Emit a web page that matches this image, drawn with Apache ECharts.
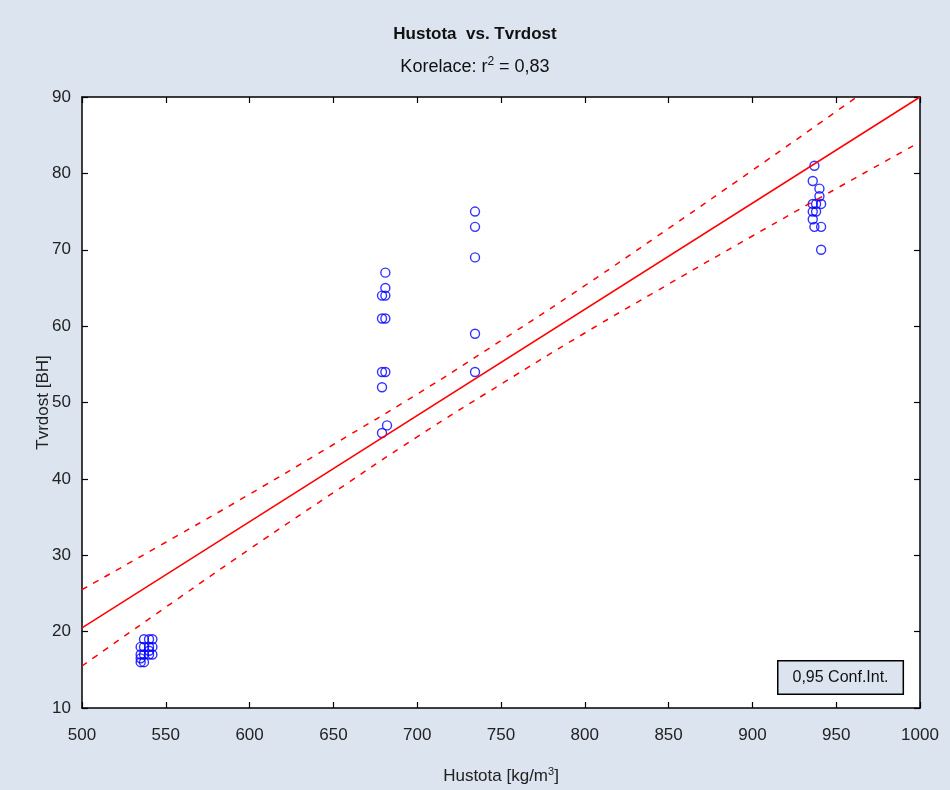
<!DOCTYPE html>
<html>
<head>
<meta charset="utf-8">
<script src="https://cdn.jsdelivr.net/npm/echarts@6/dist/echarts.min.js"></script>
<style>
html,body{margin:0;padding:0;background:#dbe4ef;}
#chart{width:950px;height:790px;}
</style>
</head>
<body>
<div id="chart"></div>
<script>
// Data
const points = [
  [535,16],[535,17],[535,18],[535,16.5],
  [537,17],[537,18],[537,19],[537,16],
  [540,17],[540,18],[540,19],[540,17.5],
  [542,18],[542,19],[542,17],
  [681,67],[681,65],[679,64],[681,64],[679,61],[681,61],
  [679,54],[681,54],[679,52],[682,47],[679,46],
  [734.5,75],[734.5,73],[734.5,69],[734.5,59],[734.5,54],
  [937,81],[936,79],[940,78],[940,77],[936,76],[938,76],[941,76],
  [936,75],[938,75],[936,74],[937,73],[941,73],[941,70]
];
const fitLine = [[500,20.5],[1000,90]];
const ciX     = [500, 550, 600, 650, 700, 750, 800, 850, 900, 950, 1000];
const ciUpper = [25.5, 31.7, 38.0, 44.5, 51.1, 58.1, 65.3, 72.8, 80.4, 88.1, 95.9];
const ciLower = [15.5, 23.2, 30.8, 38.2, 45.5, 52.4, 59.1, 65.5, 71.8, 78.0, 84.1];
const xTicks = [500,550,600,650,700,750,800,850,900,950,1000];
const yTicks = [10,20,30,40,50,60,70,80,90];

const FONT = '"Liberation Sans", Arial, sans-serif';
const chart = echarts.init(document.getElementById('chart'));
const axisCommon = {
  axisLine:{show:true, onZero:false, lineStyle:{color:'#000', width:1.5}},
  axisTick:{show:true, inside:true, length:6, lineStyle:{color:'#000', width:1.2}},
  splitLine:{show:false}
};
chart.setOption({
  backgroundColor:'#dbe4ef',
  animation:false,
  title:{
    left:'center', top:21,
    text:'Hustota  vs. Tvrdost',
    textStyle:{fontFamily:FONT, fontSize:17, fontWeight:'bold', color:'#111'},
    subtext:'{a|Korelace: r}{s|2}{a| = 0,83}',
    itemGap:13,
    subtextStyle:{rich:{
      a:{fontFamily:FONT, fontSize:18, color:'#111'},
      s:{fontFamily:FONT, fontSize:12, color:'#111', verticalAlign:'top', padding:[0,0,10,0]}
    }}
  },
  grid:{left:82, right:30, top:97, bottom:82, backgroundColor:'#fff', show:true, borderWidth:0},
  xAxis:[
    Object.assign({type:'value', min:500, max:1000, interval:50, position:'bottom',
      axisLabel:{fontFamily:FONT, fontSize:17, color:'#222', margin:19, formatter:v=>String(v)},
      name:'{a|Hustota [kg/m}{s|3}{a|]}', nameLocation:'middle', nameGap:58, nameMoveOverlap:false,
      nameTextStyle:{rich:{
        a:{fontFamily:FONT, fontSize:17, color:'#222'},
        s:{fontFamily:FONT, fontSize:11, color:'#222', verticalAlign:'top', padding:[0,0,10,0]}
      }}
    }, axisCommon),
    Object.assign({type:'value', min:500, max:1000, interval:50, position:'top',
      axisLabel:{show:false}}, axisCommon)
  ],
  yAxis:[
    Object.assign({type:'value', min:10, max:90, interval:10, position:'left',
      axisLabel:{fontFamily:FONT, fontSize:17, color:'#222', margin:11},
      name:'Tvrdost [BH]', nameLocation:'middle', nameGap:30, nameRotate:90, nameMoveOverlap:false,
      nameTextStyle:{fontFamily:FONT, fontSize:17, color:'#222'}
    }, axisCommon),
    Object.assign({type:'value', min:10, max:90, interval:10, position:'right',
      axisLabel:{show:false}}, axisCommon)
  ],
  series:[
    {type:'line', data:fitLine, showSymbol:false, symbol:'none', clip:true,
      lineStyle:{color:'#ff0000', width:1.5}},
    {type:'line', data:ciX.map((x,i)=>[x,ciUpper[i]]), smooth:true, symbol:'none', clip:true,
      lineStyle:{color:'#ff0000', width:1.5, type:[6,7]}},
    {type:'line', data:ciX.map((x,i)=>[x,ciLower[i]]), smooth:true, symbol:'none', clip:true,
      lineStyle:{color:'#ff0000', width:1.5, type:[6,7]}},
    {type:'scatter', data:points, symbol:'circle', symbolSize:9,
      itemStyle:{color:'rgba(0,0,0,0)', borderColor:'#0000ff', borderWidth:1.4}}
  ],
  graphic:[{
    type:'text', left:777, top:660,
    style:{text:'0,95 Conf.Int.', fontFamily:FONT, fontSize:16, fill:'#111',
      backgroundColor:'#dbe4ef', borderColor:'#000', borderWidth:1.5,
      padding:[8,14,8,14]}
  }]
});
</script>
</body>
</html>
